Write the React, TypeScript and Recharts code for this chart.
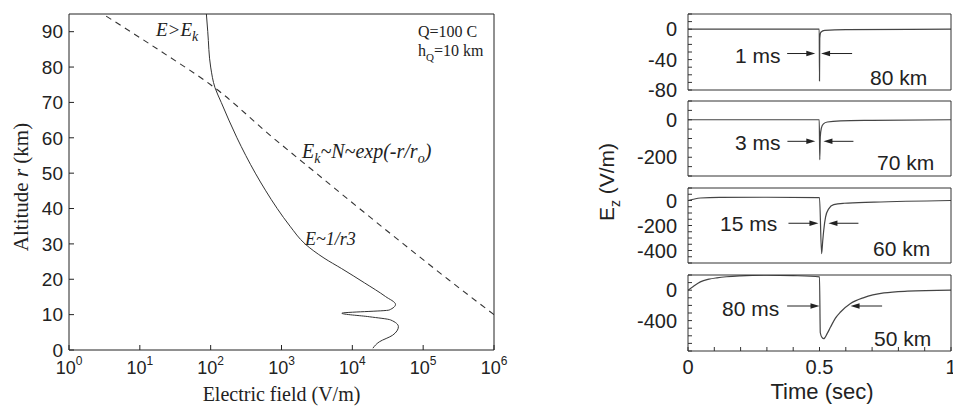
import React from 'react';
import { LineChart, Line, XAxis, YAxis, ReferenceLine } from 'recharts';

// left panel: field vs altitude (altitude in km, field in V/m)
const altSolid = [0.5, 2.3, 4.2, 6.6, 8.5, 9.4, 10.4, 11.3, 12.9, 15.1, 19, 23, 26, 30, 35, 40, 45, 50, 60, 70, 74.2, 80, 90, 95];
const fieldSolid = [19500, 24000, 37200, 44700, 34700, 17400, 7100, 33100, 40700, 29500, 14800, 7080, 3980, 2150, 1320, 870, 600, 427, 235, 141, 115, 100, 91, 87];
const altDashed = [10, 20, 30, 40, 50, 60, 75, 85, 95];
const fieldDashed = [1000000, 224000, 52500, 12600, 3090, 760, 100, 18, 3];
const decadeTicks = [1, 10, 100, 1000, 10000, 100000, 1000000];
const altTicks = [0, 10, 20, 30, 40, 50, 60, 70, 80, 90];

// right panel: Ez(t) at four altitudes
const timeTicks = [0, 0.1, 0.2, 0.3, 0.4, 0.5, 0.6, 0.7, 0.8, 0.9, 1];
const timeLabels = [0, 0.5, 1];

const t80 = [0, 0.499, 0.5, 0.501, 0.505, 0.52, 0.6, 1];
const ez80 = [0, 0, -68, -12, -4, -1.5, -0.5, 0];

const t70 = [0, 0.499, 0.501, 0.503, 0.507, 0.515, 0.53, 0.58, 0.7, 1];
const ez70 = [0, 0, -213, -90, -45, -22, -12, -6, -3, 0];

const t60 = [0, 0.02, 0.047, 0.12, 0.3, 0.5, 0.508, 0.512, 0.516, 0.523, 0.535, 0.554, 0.593, 0.707, 1];
const ez60 = [0, 10, 20, 25, 26, 23, -425, -330, -240, -133, -67, -33, -22, -13, 0];

const t50 = [0, 0.02, 0.047, 0.08, 0.11, 0.2, 0.3, 0.4, 0.5, 0.503, 0.51, 0.516, 0.529, 0.542, 0.56, 0.58, 0.618, 0.669, 0.745, 0.834, 1];
const ez50 = [0, 50, 110, 145, 163, 189, 198, 192, 175, -560, -625, -638, -572, -485, -370, -287, -176, -97, -36, -13, 0];

const panels = [
  { t: t80, v: ez80, top: 14, bottom: 90, domain: [-80, 20], ticks: [-80, -70, -60, -50, -40, -30, -20, -10, 0, 10, 20], labels: [0, -40, -80],
    arrowY: -32, arrows: [[0.377, 0.484], [0.624, 0.506]], width: '1 ms', widthPos: [735, 55], alt: '80 km', altPos: [870, 77] },
  { t: t70, v: ez70, top: 101, bottom: 176, domain: [-300, 100], ticks: [-300, -250, -200, -150, -100, -50, 0, 50, 100], labels: [0, -200],
    arrowY: -115, arrows: [[0.378, 0.484], [0.629, 0.515]], width: '3 ms', widthPos: [735, 142], alt: '70 km', altPos: [877, 162] },
  { t: t60, v: ez60, top: 188, bottom: 263, domain: [-500, 100], ticks: [-500, -450, -400, -350, -300, -250, -200, -150, -100, -50, 0, 50, 100], labels: [0, -200, -400],
    arrowY: -182, arrows: [[0.382, 0.496], [0.648, 0.534]], width: '15 ms', widthPos: [720, 223], alt: '60 km', altPos: [873, 248] },
  { t: t50, v: ez50, top: 275, bottom: 351, domain: [-800, 200], ticks: [-800, -700, -600, -500, -400, -300, -200, -100, 0, 100, 200], labels: [0, -400],
    arrowY: -208, arrows: [[0.377, 0.5], [0.738, 0.618]], width: '80 ms', widthPos: [722, 308], alt: '50 km', altPos: [874, 338] },
];

const SANS = '"Liberation Sans", Arial, Helvetica, sans-serif';
const SERIF = '"Liberation Serif", "Times New Roman", serif';
const INK = '#222';

function DecadeTick(props: any) {
  const { x, y, payload } = props;
  const exp = Math.round(Math.log10(payload.value));
  return (
    <text x={x} y={y + 19} textAnchor="middle" fontFamily={SANS} fontSize={18} fill={INK}>
      <tspan>10</tspan>
      <tspan dy={-9} fontSize={12}>{exp}</tspan>
    </text>
  );
}

function EzTick(props: any) {
  const { x, y, payload, labels } = props;
  if (!labels.includes(payload.value)) return <g />;
  return (
    <text x={x} y={y} dy="0.36em" textAnchor="end" fontFamily={SANS} fontSize={20} fill={INK}>
      {payload.value}
    </text>
  );
}

function TimeTick(props: any) {
  const { x, y, payload } = props;
  if (!timeLabels.includes(payload.value)) return <g />;
  return (
    <text x={x} y={y + 27} textAnchor="middle" fontFamily={SANS} fontSize={20} fill={INK}>
      {payload.value}
    </text>
  );
}

function Arrow(props: any) {
  const { x1, y1, x2, y2 } = props;
  const dir = x2 > x1 ? 1 : -1;
  return (
    <g>
      <line x1={x1} y1={y1} x2={x2 - dir * 6} y2={y2} stroke={INK} strokeWidth={1} />
      <polygon points={`${x2},${y2} ${x2 - dir * 9},${y2 - 2.8} ${x2 - dir * 9},${y2 + 2.8}`} fill={INK} />
    </g>
  );
}

function Note({ x, y, children, size = 18, font = SERIF, italic = false, center = false, rotate = false }: any) {
  const tf = rotate ? 'translate(-50%, -50%) rotate(-90deg)' : center ? 'translate(-50%, -50%)' : 'translateY(-50%)';
  return (
    <div style={{ position: 'absolute', left: x, top: y, transform: tf, whiteSpace: 'nowrap', fontFamily: font, fontSize: size,
      fontStyle: italic ? 'italic' : 'normal', color: INK, lineHeight: 1 }}>
      {children}
    </div>
  );
}

function Trace({ p, last }: any) {
  const data = p.t.map((t: number, i: number) => ({ t, v: p.v[i] }));
  const plotH = p.bottom - p.top;
  const pad = 12;
  const xH = last ? 45 : pad;
  return (
    <div style={{ position: 'absolute', left: 608, top: p.top - pad }}>
      <LineChart width={345} height={plotH + pad + xH} data={data} margin={{ top: pad - 1, right: 1, bottom: 0, left: 0 }}>
        <XAxis dataKey="t" type="number" domain={[0, 1]} ticks={timeTicks} interval={0} tickSize={-4} tickMargin={0}
          height={xH} tick={last ? <TimeTick /> : false} stroke="#333" allowDataOverflow />
        <XAxis xAxisId="top" orientation="top" type="number" domain={[0, 1]} height={1} tick={false} tickLine={false} stroke="#333" />
        <YAxis type="number" domain={p.domain} ticks={p.ticks} interval={0} tickSize={-4} tickMargin={15} width={80}
          tick={<EzTick labels={p.labels} />} stroke="#333" allowDataOverflow />
        <YAxis yAxisId="r" orientation="right" type="number" domain={p.domain} width={1} tick={false} tickLine={false} stroke="#333" />
        <Line dataKey="v" type="monotone" dot={false} stroke="#444" strokeWidth={1.2} isAnimationActive={false} />
        {p.arrows.map((a: number[], i: number) => (
          <ReferenceLine key={i} segment={[{ x: a[0], y: p.arrowY }, { x: a[1], y: p.arrowY }]} shape={Arrow} />
        ))}
      </LineChart>
    </div>
  );
}

export default function App() {
  const solid = altSolid.map((alt, i) => ({ alt, e: fieldSolid[i] }));
  const dashed = altDashed.map((alt, i) => ({ alt, e: fieldDashed[i] }));

  return (
    <div style={{ position: 'absolute', left: 0, top: 0, width: 953, height: 406, background: '#fff', overflow: 'hidden' }}>
      <div style={{ position: 'absolute', left: 0, top: 0 }}>
        <LineChart layout="vertical" width={540} height={406} margin={{ top: 13, right: 45, bottom: 16, left: 9 }}>
          <XAxis xAxisId="b" type="number" scale="log" domain={[1, 1000000]} ticks={decadeTicks} interval={0} allowDataOverflow
            tickSize={-5} tickMargin={10} height={40} stroke={INK} tick={<DecadeTick />} />
          <XAxis xAxisId="t" orientation="top" type="number" scale="log" domain={[1, 1000000]} ticks={decadeTicks} interval={0}
            allowDataOverflow tickSize={-5} height={1} tick={false} stroke={INK} />
          <YAxis yAxisId="l" type="number" dataKey="alt" domain={[0, 95]} ticks={altTicks} interval={0} tickSize={-5} tickMargin={11}
            width={60} stroke={INK} tick={{ fontSize: 19, fill: INK, fontFamily: SANS }} allowDataOverflow reversed />
          <YAxis yAxisId="r" orientation="right" type="number" domain={[0, 95]} ticks={altTicks} interval={0} tickSize={-5}
            width={1} tick={false} stroke={INK} allowDataOverflow reversed />
          <Line xAxisId="b" yAxisId="l" data={solid} dataKey="e" type="monotone" dot={false} stroke="#333" strokeWidth={1}
            isAnimationActive={false} />
          <Line xAxisId="b" yAxisId="l" data={dashed} dataKey="e" type="monotone" dot={false} stroke="#333" strokeWidth={1.1}
            strokeDasharray="6 5" isAnimationActive={false} />
        </LineChart>
      </div>

      {panels.map((p, i) => (
        <Trace key={i} p={p} last={i === panels.length - 1} />
      ))}

      {/* left panel text */}
      <Note x={20.5} y={187} size={21} rotate>Altitude <i>r</i> (km)</Note>
      <Note x={281.5} y={394} size={20} center>Electric field (V/m)</Note>
      <Note x={156} y={32} size={19} italic>E&gt;E<sub style={{ fontSize: 14 }}>k</sub></Note>
      <Note x={302} y={153} size={20} italic>E<sub style={{ fontSize: 14 }}>k</sub>~N~exp(-r/r<sub style={{ fontSize: 14 }}>o</sub>)</Note>
      <Note x={305} y={239} size={18} italic>E~1/r3</Note>
      <Note x={418} y={32} size={16}>Q=100 C</Note>
      <Note x={418} y={53} size={16}>h<sub style={{ fontSize: 11 }}>Q</sub>=10 km</Note>

      {/* right panel text */}
      {panels.map((p, i) => (
        <React.Fragment key={i}>
          <Note x={p.widthPos[0]} y={p.widthPos[1]} font={SANS} size={21}>{p.width}</Note>
          <Note x={p.altPos[0]} y={p.altPos[1]} font={SANS} size={21}>{p.alt}</Note>
        </React.Fragment>
      ))}
      <Note x={822} y={392} font={SANS} size={22} center>Time (sec)</Note>
      <Note x={609} y={182} font={SANS} size={21} rotate>E<sub style={{ fontSize: 14 }}>z</sub> (V/m)</Note>
    </div>
  );
}
